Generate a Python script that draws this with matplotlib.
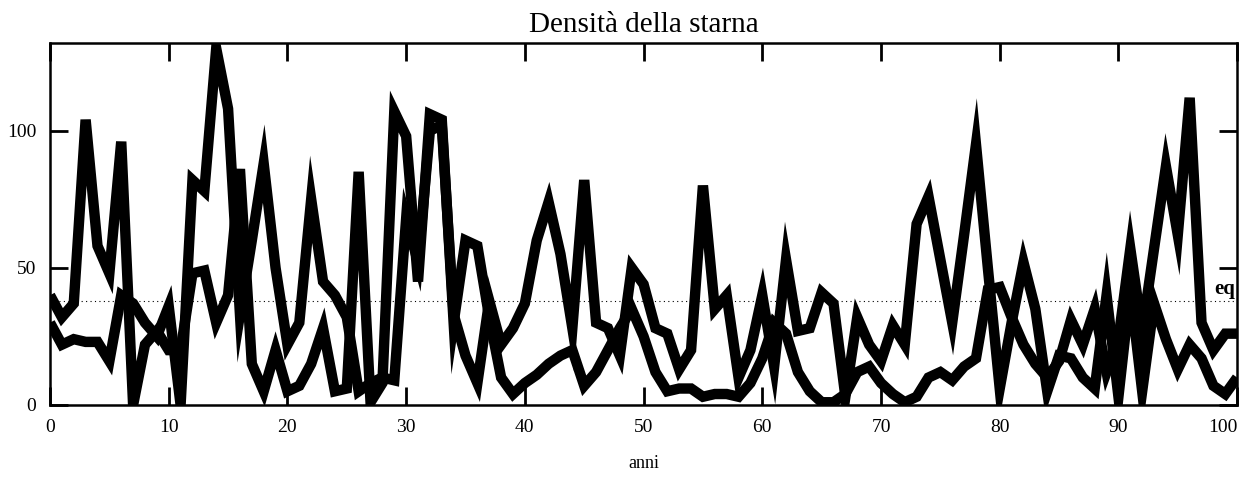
"""Densità della starna: due traiettorie simulate su 100 anni."""

import matplotlib

matplotlib.use("Agg")

import matplotlib.pyplot as plt
import numpy as np

anni = np.arange(0, 101)

serie_1 = [
    40, 32, 37, 104, 58, 48, 96, 0, 22, 27,
    20, 20, 48, 49, 30, 40, 86, 15, 5, 20,
    5, 7, 15, 28, 5, 6, 85, 1, 8, 107,
    98, 45, 106, 104, 30, 60, 58, 32, 10, 4,
    8, 11, 15, 18, 20, 7, 12, 20, 28, 35,
    25, 12, 5, 6, 6, 3, 4, 4, 3, 8,
    17, 30, 26, 12, 5, 1, 1, 4, 12, 14,
    8, 4, 1, 3, 10, 12, 9, 14, 17, 42,
    43, 32, 22, 15, 10, 16, 31, 22, 35, 12,
    24, 57, 27, 57, 87, 62, 112, 30, 20, 26,
    26,
]

serie_2 = [
    30, 22, 24, 23, 23, 16, 40, 37, 30, 25,
    36, 0, 82, 78, 130, 108, 33, 60, 88, 50,
    22, 30, 75, 45, 40, 32, 5, 8, 10, 9,
    68, 52, 100, 102, 33, 18, 8, 38, 22, 28,
    37, 60, 74, 55, 28, 82, 30, 28, 18, 50,
    44, 28, 26, 13, 20, 80, 35, 40, 10, 20,
    40, 14, 53, 27, 28, 41, 37, 3, 32, 22,
    16, 29, 22, 66, 76, 53, 30, 62, 95, 50,
    6, 30, 52, 35, 5, 18, 17, 10, 6, 40,
    3, 42, 5, 37, 24, 13, 22, 17, 7, 4,
    10,
]

equilibrio = 38
x_ticks = list(range(0, 101, 10))
y_ticks = [0, 50, 100]

plt.rcParams["font.family"] = ["Liberation Serif", "DejaVu Serif"]

fig = plt.figure(figsize=(12.47, 4.86), dpi=100)
ax = fig.add_axes([0.0401, 0.1667, 0.952, 0.745])

for serie in (serie_1, serie_2):
    ax.plot(anni, serie, color="black", lw=7.5,
            solid_joinstyle="miter", solid_capstyle="butt")

ax.axhline(equilibrio, color="black", lw=0.8, ls=(0, (1, 3)))
ax.text(98.1, equilibrio + 0.8, "eq", fontsize=15, fontweight="bold",
        ha="left", va="bottom", clip_on=True)

ax.set_xlim(0, 100)
ax.set_ylim(0, 132)
ax.set_xticks(x_ticks)
ax.set_yticks(y_ticks)
ax.tick_params(direction="in", length=13, width=2, labelsize=14,
               top=True, right=True, pad=10)
ax.get_xticklabels()[-1].set_horizontalalignment("right")
for spine in ax.spines.values():
    spine.set_linewidth(1.8)

ax.set_title("Densità della starna", fontsize=21, pad=8)
ax.set_xlabel("anni", fontsize=13, labelpad=14)

fig.savefig("out.png", dpi=100)
